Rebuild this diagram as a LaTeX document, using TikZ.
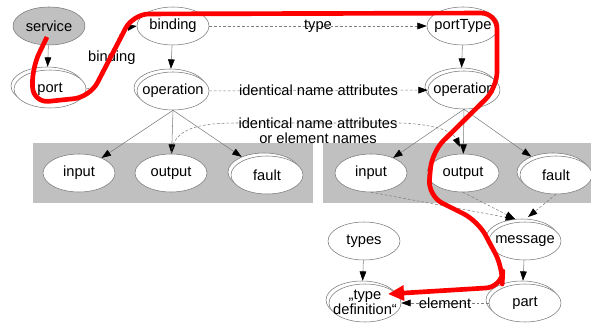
\documentclass[tikz,border=0pt]{standalone}
\usepackage{fontspec}
\setmainfont{Liberation Sans}
\usetikzlibrary{shapes.geometric,arrows.meta,calc}
\definecolor{ellgray}{RGB}{120,120,120}
\definecolor{boxgray}{RGB}{192,192,192}
\definecolor{linegray}{RGB}{125,125,125}
\newcommand{\nbox}[1]{\makebox[0pt]{#1}}
\tikzset{
  nd/.style={ellipse, draw=ellgray, line width=0.4pt, fill=white,
    minimum width=54pt, minimum height=28.5pt, inner sep=0pt,
    font=\fontsize{11}{12}\selectfont},
  svc/.style={nd, fill=boxgray},
  edge/.style={draw=linegray, line width=0.4pt,
    -{Triangle[length=7pt,width=5pt,color=black]}},
  dedge/.style={edge, dash pattern=on 2pt off 1.5pt},
  lbl/.style={font=\fontsize{11}{12.5}\selectfont, inner sep=0.5pt, align=center},
  redpath/.style={draw=red, line width=3.5pt, line join=round,
    rounded corners=12pt, -{Triangle[length=12pt,width=11pt]}}
}
\begin{document}
\begin{tikzpicture}[x=0.75pt,y=-0.75pt]
\useasboundingbox (0,0) rectangle (591,323);
% clusters
\fill[boxgray] (33,143) rectangle (313,203);
\fill[boxgray] (323,143) rectangle (591,203);
% nodes
\node[svc] (service) at (49,26) {\nbox{service}};
\node[nd] (portB) at (47,86) {};
\node[nd] (port) at (50,89) {\nbox{port}};
\node[nd] (binding) at (173,26) {\nbox{binding}};
\node[nd] (opLB) at (170,88) {};
\node[nd] (opL) at (173,91) {\nbox{operation}};
\node[nd] (portType) at (463,26) {\nbox{portType}};
\node[nd] (opRB) at (461,87) {};
\node[nd] (opR) at (464,90) {\nbox{operation}};
\node[nd] (inL) at (79,173) {\nbox{input}};
\node[nd] (outL) at (171,173) {\nbox{output}};
\node[nd] (faultLB) at (264,172) {};
\node[nd] (faultL) at (267,175) {\nbox{fault}};
\node[nd] (inR) at (371,173) {\nbox{input}};
\node[nd] (outR) at (463,173) {\nbox{output}};
\node[nd] (faultRB) at (553,172) {};
\node[nd] (faultR) at (556,175) {\nbox{fault}};
\node[nd] (messageB) at (522,238) {};
\node[nd] (message) at (525,241) {\nbox{message}};
\node[nd] (partB) at (522,300) {};
\node[nd] (part) at (525,303) {\nbox{part}};
\node[nd] (types) at (364,241) {\nbox{types}};
\node[nd] (typedefB) at (362,300) {};
\node[nd] (typedef) at (365,303) {\raisebox{-3.5pt}[0pt][0pt]{\nbox{\begin{tabular}{@{}c@{}}„type\\[-0.5pt]definition“\end{tabular}}}};
% solid edges
\draw[edge] (service) -- (portB);
\draw[edge] (binding) -- (opLB);
\draw[edge] (portType) -- (opRB);
\draw[edge] (opL.south) -- (inL);
\draw[edge] (opL.south) -- (outL);
\draw[edge] (opL.south) -- (faultLB);
\draw[edge] (opR.south) -- (inR);
\draw[edge] (opR.south) -- (outR);
\draw[edge] (opR.south) -- (faultRB);
\draw[edge] (message) -- (partB);
\draw[edge] (types) -- (typedefB);
% dashed edges
\draw[dedge] (port.east) .. controls (112,86) and (112,30) .. node[lbl]{binding} (binding.west);
\draw[dedge] (binding) -- node[lbl]{type} (portType);
\draw[dedge] (opL) -- node[lbl]{identical name attributes} (opR);
\coordinate (outRin) at (460,147);
\draw[dedge] (outL.north) .. controls (173,128) and (200,123) .. (237,123)
   -- (400,123) .. controls (430,124) and (452,130) .. (outRin);
\node[lbl] (idlabel) at (318,131) {identical name attributes\\[-1pt]or element names};
\coordinate (msgIn) at (515,219);
\coordinate (msgIn2) at (528,217);
\draw[dedge] (inR.south) -- (msgIn);
\draw[dedge] (outR.south) -- (msgIn);
\draw[dedge] (faultR.south) -- (msgIn2);
\draw[dedge] (part) -- node[lbl]{element} (typedef);
% red annotation
\coordinate (rs) at (47,37);
\coordinate (re) at (388,294);
\draw[redpath] (rs) -- (32,68) -- (33,103) -- (90,97) -- (133,14) -- (497,13)
  -- (497,88) -- (432,152) -- (428,196) -- (478,221) -- (503,268) -- (502,287) -- (re);
\end{tikzpicture}
\end{document}
